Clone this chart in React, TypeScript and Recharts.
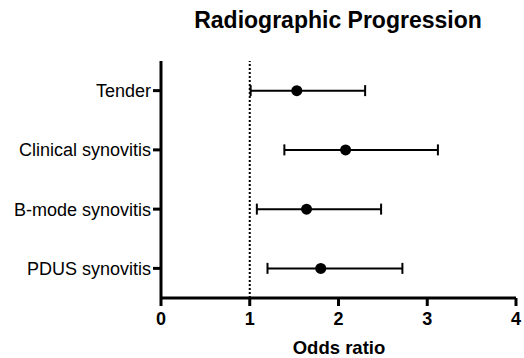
import React from 'react';
import { ScatterChart, Scatter, XAxis, YAxis, ErrorBar, ReferenceLine } from 'recharts';

const categories = ['Tender', 'Clinical synovitis', 'B-mode synovitis', 'PDUS synovitis'];
const oddsRatio = [1.53, 2.08, 1.64, 1.8];
const ciLow = [1.01, 1.39, 1.08, 1.2];
const ciHigh = [2.3, 3.12, 2.48, 2.72];
const xTicks = [0, 1, 2, 3, 4];

const data = categories.map((name, i) => ({
  name,
  or: oddsRatio[i],
  err: [oddsRatio[i] - ciLow[i], ciHigh[i] - oddsRatio[i]],
}));

const FONT = '"Liberation Sans", Arial, Helvetica, sans-serif';

const Dot = (props: any) => {
  const { cx, cy } = props;
  return <circle cx={cx} cy={cy} r={5.5} fill="#000" />;
};

export default function App() {
  return (
    <div style={{ position: 'absolute', left: 0, top: 0, width: 524, height: 358, background: '#fff' }}>
      <ScatterChart
        width={524}
        height={358}
        margin={{ top: 61, right: 8, bottom: 0, left: 0 }}
        style={{ fontFamily: FONT }}
      >
        <XAxis
          type="number"
          dataKey="or"
          domain={[0, 4]}
          ticks={xTicks}
          height={60}
          axisLine={{ stroke: '#000', strokeWidth: 3 }}
          tickLine={{ stroke: '#000', strokeWidth: 3 }}
          tickSize={8}
          tickMargin={6}
          tick={{ fill: '#000', fontSize: 18, fontWeight: 'bold', fontFamily: FONT }}
          allowDataOverflow
        />
        <YAxis
          type="category"
          dataKey="name"
          reversed
          width={161}
          axisLine={{ stroke: '#000', strokeWidth: 3 }}
          tickLine={{ stroke: '#000', strokeWidth: 3 }}
          tickSize={8}
          tickMargin={2}
          interval={0}
          tick={{ fill: '#000', fontSize: 18, fontFamily: FONT }}
        />
        <ReferenceLine x={1} stroke="#000" strokeWidth={2} strokeDasharray="2 2" />
        <Scatter data={data} fill="#000" shape={<Dot />} isAnimationActive={false}>
          <ErrorBar dataKey="err" direction="x" width={5.5} strokeWidth={2} stroke="#000" />
        </Scatter>
      </ScatterChart>
      <svg width={524} height={358} style={{ position: 'absolute', left: 0, top: 0, pointerEvents: 'none' }}>
        <text x={338} y={28} textAnchor="middle" fontFamily={FONT} fontWeight="bold" fontSize={23} fill="#000">
          Radiographic Progression
        </text>
        <text x={339} y={354} textAnchor="middle" fontFamily={FONT} fontWeight="bold" fontSize={18.5} fill="#000">
          Odds ratio
        </text>
      </svg>
    </div>
  );
}
